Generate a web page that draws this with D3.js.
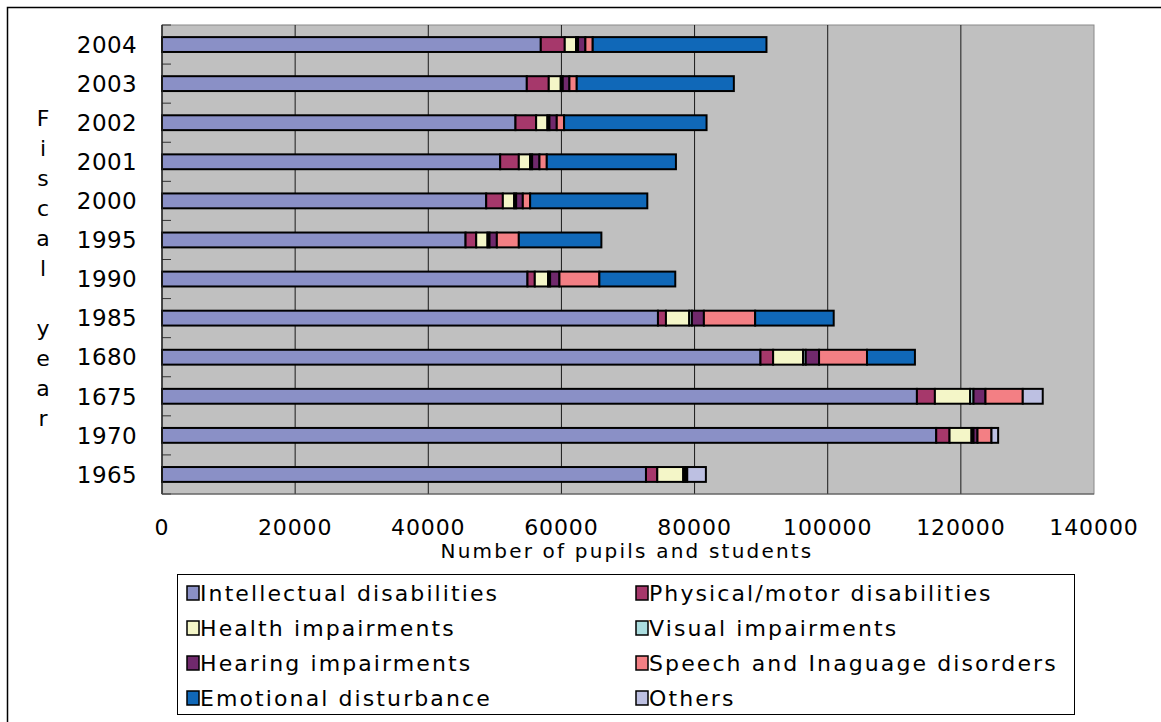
<!DOCTYPE html>
<html>
<head>
<meta charset="utf-8">
<script src="https://cdn.jsdelivr.net/npm/d3@7"></script>
<style>
  html, body { margin: 0; padding: 0; background: #ffffff; }
  svg { display: block; font-family: "DejaVu Sans", sans-serif; }
</style>
</head>
<body>
<svg id="chart" width="1161" height="722"></svg>
<script>
// Fiscal years, top row first (labels kept as printed)
const years = ["2004", "2003", "2002", "2001", "2000", "1995", "1990", "1985", "1680", "1675", "1970", "1965"];

const seriesNames = [
  "Intellectual disabilities", "Physical/motor disabilities",
  "Health impairments", "Visual impairments",
  "Hearing impairments", "Speech and Inaguage disorders",
  "Emotional disturbance", "Others"
];

// Pupils and students per category, same order as years
const intellectual = [56900, 54800, 53100, 50800, 48700, 45600, 54900, 74500, 89900, 113400, 116300, 72700];
const physical     = [3600, 3300, 3100, 2800, 2500, 1600, 1100, 1200, 1900, 2700, 2000, 1700];
const health       = [1700, 1800, 1700, 1700, 1700, 1700, 2000, 3500, 4500, 5300, 3300, 3900];
const visual       = [300, 300, 300, 300, 300, 300, 300, 400, 400, 500, 300, 300];
const hearing      = [1100, 1000, 1100, 1100, 1000, 1100, 1400, 1800, 2000, 1800, 600, 300];
const speech       = [1100, 1100, 1100, 1100, 1100, 3300, 6000, 7700, 7200, 5600, 2100, 0];
const emotional    = [26100, 23600, 21400, 19400, 17600, 12400, 11400, 11800, 7200, 0, 0, 0];
const others       = [0, 0, 0, 0, 0, 0, 0, 0, 0, 3000, 1000, 2800];

const xTicks = [0, 20000, 40000, 60000, 80000, 100000, 120000, 140000];

const colors = ["#8a90c6", "#a6386b", "#f4f6c8", "#abdddf", "#70296c", "#f37f84", "#1068b8", "#bdc0e2"];

const valueArrays = [intellectual, physical, health, visual, hearing, speech, emotional, others];
const table = years.map((y, i) => {
  const row = { year: y };
  seriesNames.forEach((s, k) => { row[s] = valueArrays[k][i]; });
  return row;
});

const svg = d3.select("#chart");

// outer frame
svg.append("rect")
  .attr("x", 7.5).attr("y", 7.5)
  .attr("width", 1170).attr("height", 730)
  .attr("fill", "none").attr("stroke", "#000").attr("stroke-width", 1.5);

const plot = { left: 162, top: 25, right: 1094, bottom: 494 };

const x = d3.scaleLinear().domain([0, 140000]).range([plot.left, plot.right]);
const y = d3.scaleBand().domain(years).range([plot.top, plot.bottom])
  .paddingInner(0.62).paddingOuter(0.31);

// plot background
svg.append("rect")
  .attr("x", plot.left).attr("y", plot.top)
  .attr("width", plot.right - plot.left).attr("height", plot.bottom - plot.top)
  .attr("fill", "#c0c0c0").attr("stroke", "#8a8a8a").attr("stroke-width", 1);

// vertical gridlines
svg.append("g")
  .selectAll("line")
  .data(xTicks.slice(1, -1))
  .join("line")
  .attr("x1", d => x(d)).attr("x2", d => x(d))
  .attr("y1", plot.top).attr("y2", plot.bottom)
  .attr("stroke", "#1a1a1a").attr("stroke-width", 1);

// category boundary ticks on the value axis
const step = y.step();
svg.append("g")
  .selectAll("line")
  .data(d3.range(years.length + 1))
  .join("line")
  .attr("x1", plot.left).attr("x2", plot.left + 9)
  .attr("y1", i => plot.top + i * step).attr("y2", i => plot.top + i * step)
  .attr("stroke", "#333").attr("stroke-width", 1);

// stacked bars
const stack = d3.stack().keys(seriesNames);
const layers = stack(table);

svg.append("g")
  .selectAll("g")
  .data(layers)
  .join("g")
  .attr("fill", (d, i) => colors[i])
  .selectAll("rect")
  .data(d => d.filter(p => p[1] - p[0] > 0))
  .join("rect")
  .attr("x", p => x(p[0]))
  .attr("y", p => y(p.data.year))
  .attr("width", p => x(p[1]) - x(p[0]))
  .attr("height", y.bandwidth())
  .attr("stroke", "#000")
  .attr("stroke-width", 2);

// left and bottom axis lines
svg.append("line")
  .attr("x1", plot.left).attr("x2", plot.left)
  .attr("y1", plot.top).attr("y2", plot.bottom)
  .attr("stroke", "#222").attr("stroke-width", 1.5);
svg.append("line")
  .attr("x1", plot.left).attr("x2", plot.right)
  .attr("y1", plot.bottom).attr("y2", plot.bottom)
  .attr("stroke", "#555").attr("stroke-width", 1);

// year labels
svg.append("g")
  .selectAll("text")
  .data(years)
  .join("text")
  .attr("x", 137)
  .attr("y", d => y(d) + y.bandwidth() / 2)
  .attr("dy", "0.36em")
  .attr("text-anchor", "end")
  .attr("font-size", 23)
  .attr("letter-spacing", 0.4)
  .attr("fill", "#000")
  .text(d => d);

// value tick labels
svg.append("g")
  .selectAll("text")
  .data(xTicks)
  .join("text")
  .attr("x", d => x(d))
  .attr("y", 535)
  .attr("text-anchor", "middle")
  .attr("font-size", 22)
  .attr("letter-spacing", 0.9)
  .attr("fill", "#000")
  .text(d => d);

// axis titles
svg.append("text")
  .attr("x", 627).attr("y", 558)
  .attr("text-anchor", "middle")
  .attr("font-size", 20)
  .attr("letter-spacing", 2.2)
  .text("Number of pupils and students");

const yTitle = "Fiscal year".split("");
svg.append("g")
  .selectAll("text")
  .data(yTitle)
  .join("text")
  .attr("x", 43)
  .attr("y", (d, i) => 118 + i * 30)
  .attr("dy", "0.36em")
  .attr("text-anchor", "middle")
  .attr("font-size", 22)
  .text(d => d);

// legend
const legend = svg.append("g");
legend.append("rect")
  .attr("x", 177.5).attr("y", 574.5)
  .attr("width", 897).attr("height", 140)
  .attr("fill", "#fff").attr("stroke", "#000").attr("stroke-width", 1);

const legendItems = legend.selectAll("g")
  .data(seriesNames)
  .join("g")
  .attr("transform", (d, i) => `translate(${i % 2 === 0 ? 187 : 636},${593 + Math.floor(i / 2) * 35})`);

legendItems.append("rect")
  .attr("x", 0).attr("y", -7)
  .attr("width", 12).attr("height", 14)
  .attr("fill", (d, i) => colors[i])
  .attr("stroke", "#000").attr("stroke-width", 1.5);

legendItems.append("text")
  .attr("x", 13)
  .attr("y", 0)
  .attr("dy", "0.36em")
  .attr("font-size", 22)
  .attr("letter-spacing", 2.1)
  .text(d => d);
</script>
</body>
</html>
